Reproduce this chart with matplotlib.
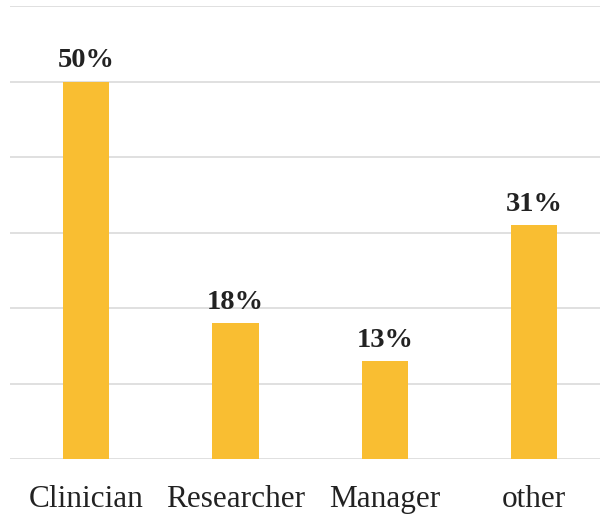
import matplotlib
matplotlib.use("Agg")
import matplotlib.pyplot as plt

categories = ["Clinician", "Researcher", "Manager", "other"]
values = [50, 18, 13, 31]
labels = ["50%", "18%", "13%", "31%"]

bar_color = "#F9BE32"
grid_color = "#E0E0E0"

fig = plt.figure(figsize=(6.0, 5.15), dpi=100)
ax = fig.add_axes([10/600, (515-459)/515, 590/600, (459-6)/515])
x = list(range(len(categories)))
ax.bar(x, values, width=0.31, color=bar_color, zorder=3)
ax.set_ylim(0, 60)
ax.set_xlim(-0.508, 3.44)
ax.set_yticks([0, 10, 20, 30, 40, 50, 60])
ax.yaxis.grid(True, color=grid_color, linewidth=1.4, zorder=0)
ax.tick_params(axis="y", left=False, labelleft=False)
ax.set_xticks(x)
ax.set_xticklabels(categories, fontfamily="Liberation Serif", fontsize=22.5, color="#222222")
ax.tick_params(axis="x", length=0, pad=19)
for s in ax.spines.values():
    s.set_visible(False)
for xi, v, lab in zip(x, values, labels):
    ax.annotate(lab, (xi, v), xytext=(0, 6), textcoords="offset points",
                ha="center", va="bottom", fontfamily="Liberation Serif",
                fontweight="bold", fontsize=20.5, color="#222222")
fig.savefig("out.png", dpi=100)
